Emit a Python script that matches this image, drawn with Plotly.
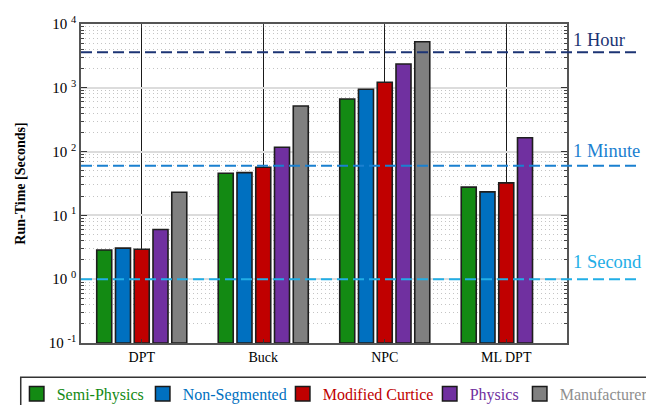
import math
import plotly.graph_objects as go

categories = ["DPT", "Buck", "NPC", "ML DPT"]
series_names = ["Semi-Physics", "Non-Segmented", "Modified Curtice", "Physics", "Manufacturer"]
series_colors = ["#138a13", "#0070c0", "#c00000", "#7030a0", "#808080"]
legend_text_colors = ["#138a13", "#0070c0", "#c00000", "#7030a0", "#8e8e8e"]
semi_physics = [2.77, 45.7, 667, 27.6]
non_segmented = [2.97, 46.7, 947, 23.3]
modified_curtice = [2.84, 56.7, 1220, 32.2]
physics = [5.9, 117, 2360, 165]
manufacturer = [23.0, 519, 5280, None]
series_values = [semi_physics, non_segmented, modified_curtice, physics, manufacturer]

y_tick_vals = [0.1, 1, 10, 100, 1000, 10000]
y_tick_text = ["10&nbsp;<sup>-1</sup>", "10&nbsp;<sup>0</sup>", "10&nbsp;<sup>1</sup>",
               "10&nbsp;<sup>2</sup>", "10&nbsp;<sup>3</sup>", "10&nbsp;<sup>4</sup>"]

ref_labels = ["1 Hour", "1 Minute", "1 Second"]
ref_values = [3600, 60, 1]
ref_colors = ["#1c3474", "#1a80d0", "#22aee6"]

# styling (not data)
label_yshift = [0, 3, 5]
legend_slot = ["legend", "legend", "legend", "legend2", "legend2"]
legend_item_width = [81, 95, 110, 45, 95]

FONT = "Liberation Serif"

fig = go.Figure()
for name, color, vals in zip(series_names, series_colors, series_values):
    fig.add_trace(go.Bar(
        x=categories, y=vals, name=name, legendgroup=name, showlegend=False,
        base=0.1,
        marker=dict(color=color, line=dict(color="#1e1e1e", width=1.6)),
    ))
# legend keys
for name, color, tcol, slot, lw in zip(series_names, series_colors, legend_text_colors,
                                       legend_slot, legend_item_width):
    fig.add_trace(go.Scatter(
        x=[None], y=[None], mode="markers", legendgroup=name, legend=slot,
        name=f"<span style='color:{tcol}'>{name}</span>", legendwidth=lw,
        marker=dict(symbol="square", size=14.5, color=color,
                    line=dict(color="#1a1a1a", width=1.5)),
        hoverinfo="skip",
    ))

for lab, val, col, ys in zip(ref_labels, ref_values, ref_colors, label_yshift):
    fig.add_shape(type="line", xref="paper", yref="y", x0=0, x1=1.152, y0=val, y1=val,
                  line=dict(color=col, width=2, dash="11px,5px"))
    fig.add_annotation(xref="paper", yref="y", x=1.008, y=math.log10(val), text=lab,
                       showarrow=False, xanchor="left", yanchor="bottom", yshift=ys,
                       font=dict(family=FONT, size=18.5, color=col))

# legend frame
fig.add_shape(type="rect", xref="paper", yref="paper", x0=-0.124, x1=1.2,
              y0=-0.1075, y1=-0.25, line=dict(color="#333", width=1.5),
              fillcolor="rgba(0,0,0,0)", layer="below")

leg_common = dict(orientation="h", xanchor="left", yanchor="top",
                  borderwidth=0, bgcolor="rgba(0,0,0,0)",
                  font=dict(family=FONT, size=16), itemwidth=30, traceorder="normal")
fig.update_layout(
    width=646, height=405,
    margin=dict(l=81, r=79, t=24, b=62, autoexpand=False),
    paper_bgcolor="white", plot_bgcolor="white",
    font=dict(family=FONT, size=14, color="black"),
    barmode="group", bargap=0.228, bargroupgap=0.2,
    showlegend=True,
    legend=dict(x=-0.1323, y=-0.1063, **leg_common),
    legend2=dict(x=0.7175, y=-0.1063, **leg_common),
)
fig.update_xaxes(
    showline=True, linecolor="#555", linewidth=1.5, mirror="ticks",
    showgrid=True, gridcolor="#1a1a1a", gridwidth=1,
    ticks="inside", ticklen=4, tickcolor="#333",
    tickfont=dict(family=FONT, size=14),
)
fig.update_yaxes(
    type="log", range=[-1, 4], tickvals=y_tick_vals, ticktext=y_tick_text,
    showline=True, linecolor="#555", linewidth=1.5, mirror="ticks",
    showgrid=True, gridcolor="#dcdcdc", gridwidth=1.5,
    ticks="inside", ticklen=6, tickcolor="#333",
    minor=dict(dtick="D1", ticks="inside", ticklen=3.5, tickcolor="#444",
               showgrid=True, gridcolor="#c4c4c4", griddash="1px,3px", gridwidth=1),
    tickfont=dict(family=FONT, size=15),
    title=dict(text="<b>Run-Time [Seconds]</b>", font=dict(family=FONT, size=14), standoff=20),
    zeroline=False, automargin=False,
)
fig.write_html("out.html", config={"displayModeBar": False},
               post_script="document.body.style.margin='0px';")
